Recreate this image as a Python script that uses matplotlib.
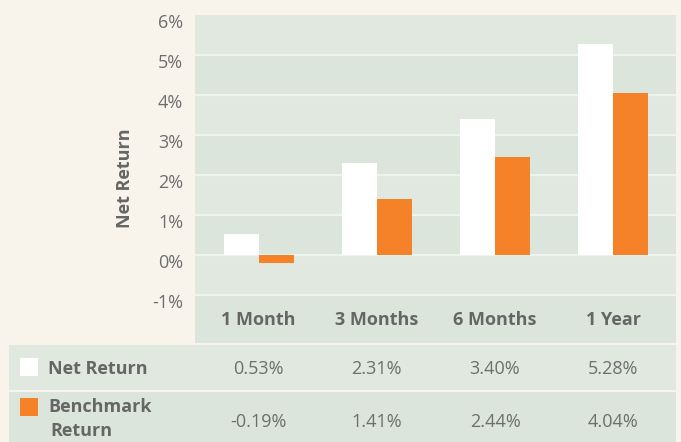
import numpy as np
import matplotlib
matplotlib.use('Agg')
import matplotlib.pyplot as plt
from matplotlib.patches import Rectangle

plt.rcParams['font.family'] = ['Open Sans', 'DejaVu Sans']

# data
periods = ['1 Month', '3 Months', '6 Months', '1 Year']
net_return = [0.53, 2.31, 3.40, 5.28]
bench_return = [-0.19, 1.41, 2.44, 4.04]
yticks = [-1, 0, 1, 2, 3, 4, 5, 6]

W, H = 681, 442
bg = '#f8f4ec'
light = '#e1e8e0'
dark = '#dbe5db'
grid = '#eef3ed'
orange = '#f58228'
txt = '#6e6e6e'
lab = '#666666'

fig = plt.figure(figsize=(W / 100, H / 100), dpi=100, facecolor=bg)

# main chart axes (pixels: x 195..676, y 15..343)
ax = fig.add_axes([195 / W, 1 - 343 / H, (676 - 195) / W, (343 - 15) / H])
ax.set_xlim(-0.537, 3.53)
ax.set_ylim(-2.2, 6)
ax.axis('off')

# alternating bands
bands = [(5, 6), (4, 5), (3, 4), (2, 3), (1, 2), (0, 1), (-1, 0), (-2.2, -1)]
for i, (lo, hi) in enumerate(bands):
    ax.axhspan(lo, hi, color=light if i % 2 == 0 else dark, lw=0, zorder=0)
for v in yticks[:-1]:
    ax.axhline(v, color=grid, lw=1.6, zorder=1)

x = np.arange(len(periods))
w = 0.296
ax.bar(x - w / 2, net_return, w, color='white', zorder=2)
ax.bar(x + w / 2, bench_return, w, color=orange, zorder=2)

for v in yticks:
    ax.text(-0.537 - 0.1, v - 0.2, f'{v}%', ha='right', va='center',
            fontsize=13, color=txt, clip_on=False)

for xi, p in zip(x, periods):
    ax.text(xi, -1.63, p, ha='center', va='center', fontsize=13,
            fontweight='bold', color=lab)

fig.text(125 / W, 1 - 178 / H, 'Net Return', rotation=90, ha='center',
         va='center', fontsize=13, fontweight='bold', color=lab)

# table below the chart, in pixel coordinates
tab = fig.add_axes([0, 0, 1, 1])
tab.set_xlim(0, W)
tab.set_ylim(H, 0)
tab.axis('off')
tab.patch.set_alpha(0)
tab.add_patch(Rectangle((9, 345), 676 - 9, 45, color=light, lw=0))
tab.add_patch(Rectangle((9, 392), 676 - 9, 50, color=dark, lw=0))
tab.add_patch(Rectangle((20, 358), 18, 18, color='white', lw=0))
tab.add_patch(Rectangle((20, 398), 18, 18, color=orange, lw=0))
tab.text(48, 369, 'Net Return', ha='left', va='center', fontsize=13,
         fontweight='bold', color=lab)
tab.text(48, 407, 'Benchmark', ha='left', va='center', fontsize=13,
         fontweight='bold', color=lab)
tab.text(50, 431, 'Return', ha='left', va='center', fontsize=13,
         fontweight='bold', color=lab)

col_px = ax.transData.transform(np.column_stack([x, np.zeros(len(x))]))[:, 0]
for cx, n, b in zip(col_px, net_return, bench_return):
    tab.text(cx, 369, f'{n:.2f}%', ha='center', va='center', fontsize=13, color=txt)
    tab.text(cx, 422, f'{b:.2f}%', ha='center', va='center', fontsize=13, color=txt)

fig.savefig('out.png', dpi=100, facecolor=bg)
